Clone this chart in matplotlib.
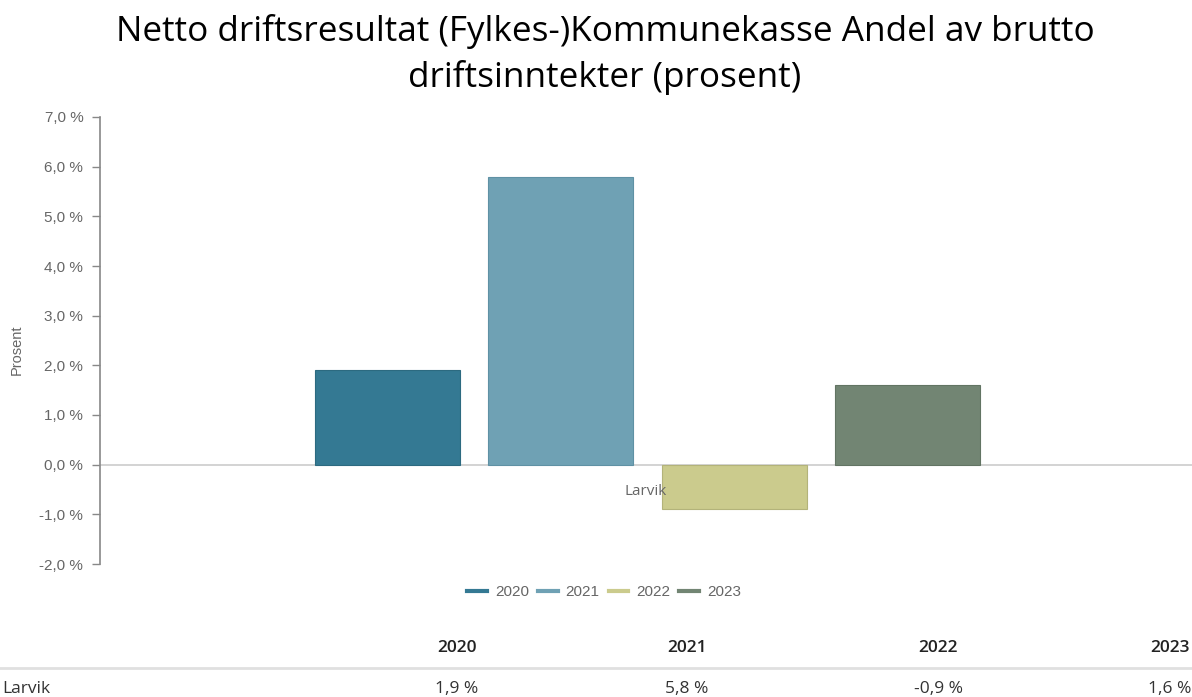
import matplotlib.pyplot as plt
import numpy as np

years = ["2020", "2021", "2022", "2023"]
values = [1.9, 5.8, -0.9, 1.6]
colors = ["#347993", "#6fa1b4", "#cbcb8d", "#728573"]
edges = ["#2c6a80", "#5f91a4", "#b3b37a", "#627463"]
category = "Larvik"
value_labels = ["1,9 %", "5,8 %", "-0,9 %", "1,6 %"]
yticks = np.arange(-2, 8, 1)

fig = plt.figure(figsize=(11.92, 6.97), dpi=100)
ax = fig.add_axes([100 / 1192, 1 - 564 / 697, 1 - 100 / 1192, (564 - 117) / 697])

width = 0.1328
step = 0.1589
offsets = (np.arange(len(years)) - 1.5) * step
for off, v, c, e, y in zip(offsets, values, colors, edges, years):
    ax.bar(off + 0.0015, v, width=width, color=c, edgecolor=e, linewidth=0.8, label=y, zorder=3)

ax.axhline(0, color="#cccccc", linewidth=1.2, zorder=2)
ax.set_xlim(-0.5, 0.5)
ax.set_ylim(-2, 7)
ax.set_yticks(yticks)
ax.set_yticklabels([f"{t:.1f} %".replace(".", ",") for t in yticks],
                   fontsize=11, color="#666666", family="Liberation Sans")
ax.set_xticks([])
ax.tick_params(axis="y", length=6, color="#888888", width=1, pad=6)
for s in ["top", "right", "bottom"]:
    ax.spines[s].set_visible(False)
ax.spines["left"].set_color("#888888")
ax.spines["left"].set_linewidth(1.2)

ax.text(0, -0.55, category, ha="center", va="center", fontsize=11,
        color="#666666", family="Open Sans")

fig.text(17 / 1192, 1 - 350 / 697, "Prosent", rotation=90, ha="center", va="center",
         fontsize=10.5, color="#666666", family="Liberation Sans")

fig.suptitle("Netto driftsresultat (Fylkes-)Kommunekasse Andel av brutto\ndriftsinntekter (prosent)",
             x=605 / 1192, y=1 - 14 / 697, va="top", fontsize=25.3, family="Open Sans",
             fontweight="medium", color="#000000", linespacing=1.4)

handles = [plt.Line2D([0], [0], color=c, linewidth=3) for c in colors]
fig.legend(handles, years, loc="center", bbox_to_anchor=(604 / 1192, 1 - 592 / 697),
           ncol=4, frameon=False, handlelength=1.3, handletextpad=0.5,
           columnspacing=0.6, labelcolor="#666666", prop={"family": "Liberation Sans", "size": 11})

# table below
col_x = [457, 687, 938, 1170]
for x, y in zip(col_x, years):
    fig.text(x / 1192, 1 - 648 / 697, y, ha="center", va="center", fontsize=12.5,
             family="Open Sans", color="#222222", fontweight="semibold")
fig.add_artist(plt.Line2D([0, 1], [1 - 668 / 697] * 2, color="#e0e0e0", linewidth=2))
fig.text(2 / 1192, 1 - 689 / 697, category, ha="left", va="center", fontsize=12.5,
         family="Open Sans", color="#333333")
for x, lab in zip(col_x, value_labels):
    fig.text(x / 1192, 1 - 689 / 697, lab, ha="center", va="center", fontsize=12.5,
             family="Open Sans", color="#333333")

fig.savefig("out.png", dpi=100, facecolor="white")
